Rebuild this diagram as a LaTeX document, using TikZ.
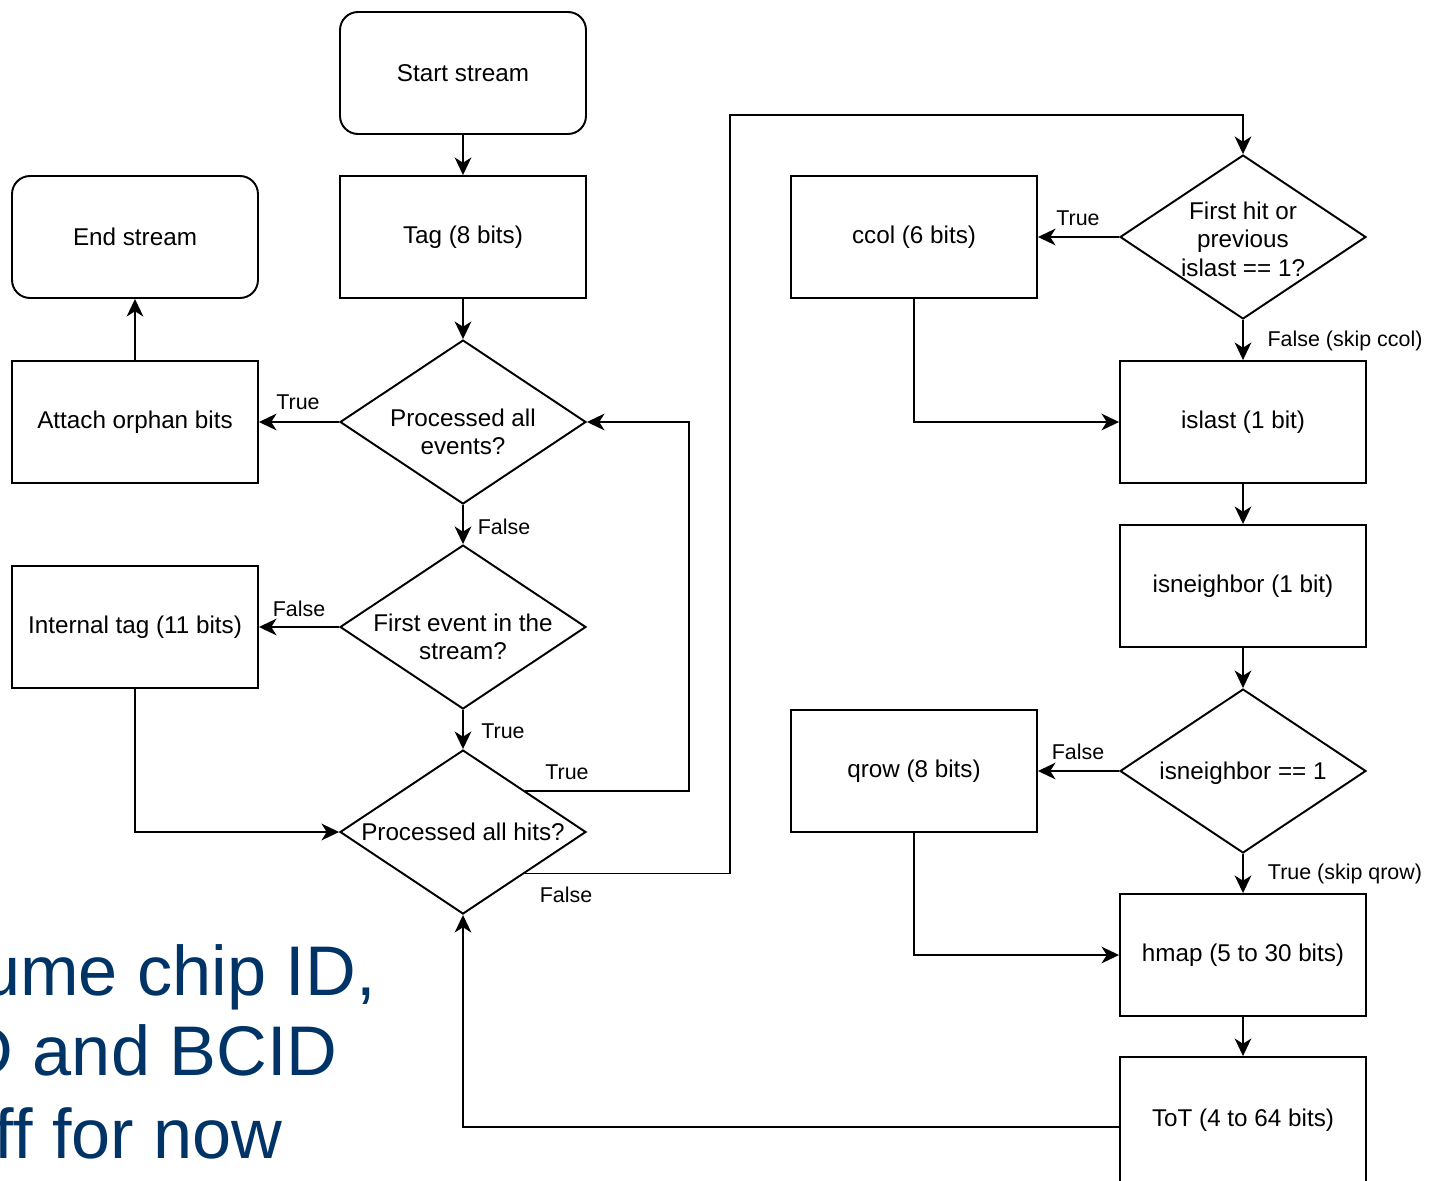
\documentclass[tikz,border=0pt]{standalone}
\usepackage{fontspec}
\setmainfont{Liberation Sans}
\usetikzlibrary{shapes.geometric,arrows.meta}
\definecolor{slideblue}{RGB}{0,51,102}

\begin{document}
\begin{tikzpicture}[x=0.02cm, y=-0.02cm,
    box/.style ={rectangle, draw, line width=1.1pt, minimum width=4.92cm, minimum height=2.44cm, align=center, font=\fontsize{13.8}{16.3}\selectfont},
    terminal/.style ={box, rounded corners=0.36cm},
    decision/.style ={diamond, draw, line width=1.1pt, inner sep=0pt, minimum width=4.92cm, minimum height=3.28cm},
    question/.style ={align=center, inner sep=0pt, font=\fontsize{13.8}{16.3}\selectfont},
    answer/.style ={inner sep=0pt, font=\fontsize{12.2}{14}\selectfont},
    flow/.style ={line width=1.1pt, -{Stealth[length=10pt,width=9.5pt,inset=3pt]}},
    remark/.style ={inner sep=0pt, text=slideblue, font=\fontsize{40}{46}\selectfont}]
   \useasboundingbox (0,0) rectangle (1430,1180);
   \node[remark, anchor=base east] (rem1) at (376,995) {ume chip ID,};
   \node[remark, anchor=base east] (rem2) at (338,1075) {D and BCID};
   \node[remark, anchor=base east] (rem3) at (283,1158) {ff for now};
   \node[terminal] (start) at (463,73) {Start stream};
   \node[box] (tag) at (463,237) {Tag (8 bits)};
   \node[decision] (evt) at (463,422) {};
   \node[question] (evtq) at (463,432) {Processed all\\events?};
   \node[decision] (first) at (463,627) {};
   \node[question] (firstq) at (463,637) {First event in the\\stream?};
   \node[decision] (hits) at (463,832) {};
   \node[question] (hitsq) at (463,832) {Processed all hits?};
   \node[terminal] (endst) at (135,237) {End stream};
   \node[box] (orph) at (135,422) {Attach orphan bits};
   \node[box] (intt) at (135,627) {Internal tag (11 bits)};
   \node[box] (ccol) at (914,237) {ccol (6 bits)};
   \node[decision] (fh) at (1243,237) {};
   \node[question] (fhq) at (1243,239) {First hit or\\previous\\islast == 1?};
   \node[box] (islast) at (1243,422) {islast (1 bit)};
   \node[box] (isnb) at (1243,586) {isneighbor (1 bit)};
   \node[decision] (nb) at (1243,771) {};
   \node[question] (nbq) at (1243,773) {isneighbor == 1};
   \node[box] (qrow) at (914,771) {qrow (8 bits)};
   \node[box] (hmap) at (1243,955) {hmap (5 to 30 bits)};
   \node[box, minimum height=2.52cm] (tot) at (1243,1120) {ToT (4 to 64 bits)};
   \coordinate (hret) at (689,422);
   \coordinate (hout) at (730,115);
   \draw[flow] (start) -- (tag);
   \draw[flow] (tag) -- (evt);
   \draw[flow] (evt.west) -- (orph.east);
   \draw[flow] (orph) -- (endst);
   \draw[flow] (evt.south) -- (first.north);
   \draw[flow] (first.west) -- (intt.east);
   \draw[flow] (first.south) -- (hits.north);
   \draw[flow] (intt.south) |- (hits.west);
   \draw[flow] (hits.north east) -| (hret) -- (evt.east);
   \draw[flow] (hits.south east) -| (hout) -| (fh.north);
   \draw[flow] (fh.west) -- (ccol.east);
   \draw[flow] (fh.south) -- (islast.north);
   \draw[flow] (ccol.south) |- (islast.west);
   \draw[flow] (islast) -- (isnb);
   \draw[flow] (isnb.south) -- (nb.north);
   \draw[flow] (nb.west) -- (qrow.east);
   \draw[flow] (nb.south) -- (hmap.north);
   \draw[flow] (qrow.south) |- (hmap.west);
   \draw[flow] (hmap) -- (tot);
   \draw[flow] (tot.west) ++(0,7) -| (hits.south);
   \node[answer] (tevt) at (298,402) {True};
   \node[answer] (fevt) at (504,527) {False};
   \node[answer] (ffirst) at (299,609) {False};
   \node[answer] (tfirst) at (503,731) {True};
   \node[answer] (thits) at (567,772) {True};
   \node[answer] (fhits) at (566,895) {False};
   \node[answer] (tfh) at (1078,218) {True};
   \node[answer] (ffh) at (1345,341) {False (skip ccol)};
   \node[answer] (fnb) at (1078,752) {False};
   \node[answer] (tnb) at (1345,874) {True (skip qrow)};
\end{tikzpicture}
\end{document}
